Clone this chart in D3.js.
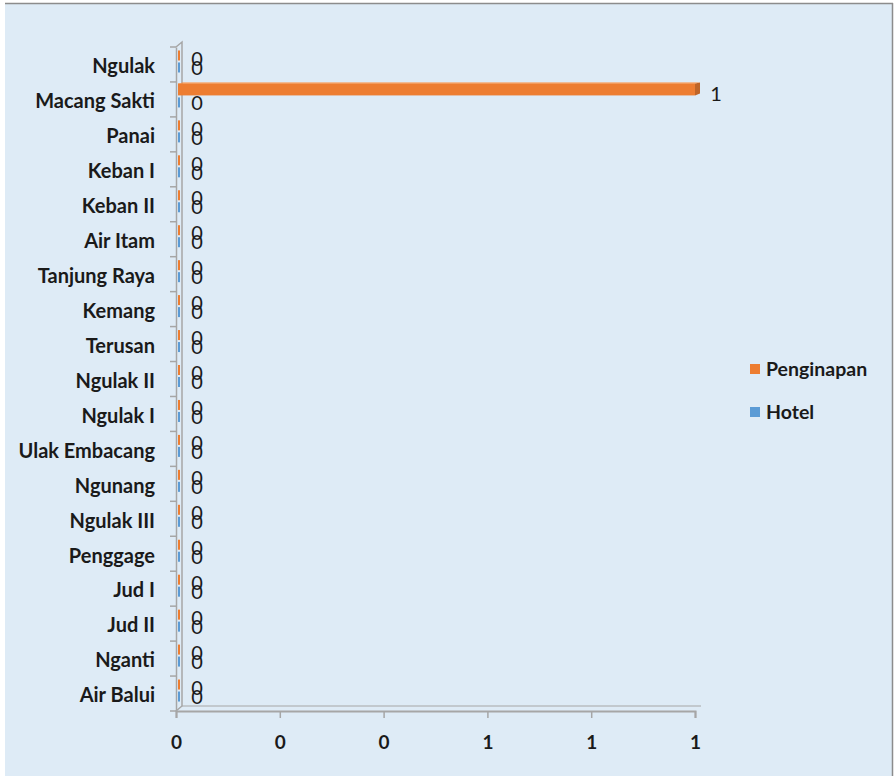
<!DOCTYPE html>
<html>
<head>
<meta charset="utf-8">
<script src="https://cdn.jsdelivr.net/npm/d3@7"></script>
<style>
  html, body { margin: 0; padding: 0; background: #ffffff; }
  svg { display: block; }
</style>
</head>
<body>
<svg id="chart" width="894" height="776"></svg>
<script>
// ---- data ----
const categories = ["Ngulak", "Macang Sakti", "Panai", "Keban I", "Keban II", "Air Itam",
  "Tanjung Raya", "Kemang", "Terusan", "Ngulak II", "Ngulak I", "Ulak Embacang",
  "Ngunang", "Ngulak III", "Penggage", "Jud I", "Jud II", "Nganti", "Air Balui"];
const seriesNames = ["Penginapan", "Hotel"];
const penginapan = [0, 1, 0, 0, 0, 0, 0, 0, 0, 0, 0, 0, 0, 0, 0, 0, 0, 0, 0];
const hotel      = [0, 0, 0, 0, 0, 0, 0, 0, 0, 0, 0, 0, 0, 0, 0, 0, 0, 0, 0];
const xTicks = [0, 0.2, 0.4, 0.6, 0.8, 1];
const colors = ["#ed7d31", "#5b9bd5"];

const svg = d3.select("#chart");
const W = 894, H = 776;
const FONT = "Lato, sans-serif";

// background
svg.append("rect").attr("x", 5).attr("y", 3).attr("width", 887).attr("height", H)
  .attr("fill", "#deebf6");
svg.append("line").attr("x1", 5).attr("x2", 893).attr("y1", 3.5).attr("y2", 3.5)
  .attr("stroke", "#8c8c8c").attr("stroke-width", 1.5);
svg.append("line").attr("x1", 892.5).attr("x2", 892.5).attr("y1", 3).attr("y2", H)
  .attr("stroke", "#8c8c8c").attr("stroke-width", 1.5);

const x = d3.scaleLinear().domain([0, 1]).range([176, 695]);
const y = d3.scaleBand().domain(categories).range([47, 711]).padding(0);
const dx = 6, dy = -5; // 3D depth offset

const axisColor = "#a6a6a6";
// 3D wall (left) and floor
const wall = svg.append("g").attr("fill", "none").attr("stroke", axisColor).attr("stroke-width", 1.5);
wall.append("path").attr("d", `M${x(0)},${y.range()[0]} L${x(0) + dx},${y.range()[0] + dy} L${x(0) + dx},${y.range()[1] + dy} L${x(0)},${y.range()[1]}`);
wall.append("path").attr("d", `M${x(0) + dx},${y.range()[1] + dy} L${x(1) + dx},${y.range()[1] + dy}`).attr("stroke-width", 1);

// y axis (category)
const yAxis = svg.append("g").attr("transform", `translate(${x(0)},0)`)
  .call(d3.axisLeft(y).tickSize(0).tickPadding(21));
yAxis.select(".domain").attr("stroke", axisColor).attr("stroke-width", 1.5);
yAxis.selectAll("text").attr("font-family", FONT).attr("font-weight", "bold")
  .attr("font-size", "20px").attr("fill", "#1a1a1a").attr("dy", "0.44em");
// category boundary ticks
svg.append("g").selectAll("line").data(categories.concat(["_end"]))
  .join("line")
  .attr("x1", x(0) - 6).attr("x2", x(0))
  .attr("y1", (d, i) => y.range()[0] + i * y.step())
  .attr("y2", (d, i) => y.range()[0] + i * y.step())
  .attr("stroke", axisColor).attr("stroke-width", 1.5);

// x axis
const xAxis = svg.append("g").attr("transform", `translate(0,${y.range()[1]})`)
  .call(d3.axisBottom(x).tickValues(xTicks).tickFormat(d3.format(".0f")).tickSize(7).tickPadding(18));
xAxis.select(".domain").attr("stroke", axisColor).attr("stroke-width", 2);
xAxis.selectAll(".tick line").attr("stroke", axisColor).attr("stroke-width", 1.5);
xAxis.selectAll("text").attr("font-family", FONT).attr("font-weight", "bold")
  .attr("font-size", "19px").attr("fill", "#1a1a1a");

// bars
const values = [penginapan, hotel];
const offsets = [[-16, -4], [-4, 8]]; // vertical placement within band
const labelOffsets = [-6, 3];
const darker = c => d3.color(c).darker(0.6).formatHex();
values.forEach((vals, s) => {
  const g = svg.append("g");
  categories.forEach((c, i) => {
    const v = vals[i];
    const cy = y(c) + y.bandwidth() / 2;
    const y0 = cy + offsets[s][0], y1 = cy + offsets[s][1];
    const xs = x(0) + 2, xe = Math.max(x(v), x(0) + 3.5);
    if (v > 0) {
      g.append("rect").attr("x", xs).attr("y", y0).attr("width", xe - xs).attr("height", y1 - y0)
        .attr("fill", colors[s]);
      g.append("path").attr("d", `M${xe},${y0} L${xe + 5},${y0 - 1} L${xe + 5},${y1 - 2} L${xe},${y1} Z`)
        .attr("fill", darker(colors[s]));
      g.append("path").attr("d", `M${xs},${y0} L${xs + 5},${y0 - 1} L${xe + 5},${y0 - 1} L${xe},${y0} Z`)
        .attr("fill", d3.color(colors[s]).brighter(0.3).formatHex());
    } else {
      g.append("rect").attr("x", xs).attr("y", y0 + 2).attr("width", 2).attr("height", y1 - y0 - 2)
        .attr("fill", colors[s]);
    }
    // data label
    g.append("text")
      .attr("x", v > 0 ? x(v) + 21 : x(0) + 21)
      .attr("y", cy + labelOffsets[s])
      .attr("dy", "0.36em")
      .attr("text-anchor", "middle")
      .attr("font-family", FONT).attr("font-size", "20px")
      .attr("fill", "#1a1a1a")
      .text(d3.format(".0f")(v));
  });
});

// legend
const legend = svg.append("g");
seriesNames.forEach((n, i) => {
  const ly = 369 + i * 43;
  legend.append("rect").attr("x", 750).attr("y", ly - 5).attr("width", 10).attr("height", 10)
    .attr("fill", colors[i]);
  legend.append("text").attr("x", 766).attr("y", ly).attr("dy", "0.36em")
    .attr("font-family", FONT).attr("font-weight", "bold").attr("font-size", "19.5px")
    .attr("fill", "#1a1a1a").text(n);
});
</script>
</body>
</html>
